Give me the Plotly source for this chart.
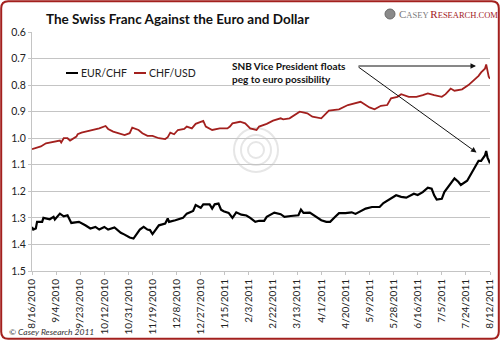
import pandas as pd
import plotly.graph_objects as go

# ---------------- data ----------------
CHFUSD_DATES = [
    "2010-08-16", "2010-08-20", "2010-08-23", "2010-08-27", "2010-09-02", "2010-09-07",
    "2010-09-08", "2010-09-10", "2010-09-13", "2010-09-15", "2010-09-20", "2010-09-21",
    "2010-09-24", "2010-09-29", "2010-10-04", "2010-10-08", "2010-10-13", "2010-10-15",
    "2010-10-19", "2010-10-25", "2010-10-28", "2010-11-01", "2010-11-03", "2010-11-08",
    "2010-11-11", "2010-11-15", "2010-11-19", "2010-11-24", "2010-11-29", "2010-12-01",
    "2010-12-03", "2010-12-06", "2010-12-09", "2010-12-14", "2010-12-16", "2010-12-20",
    "2010-12-23", "2010-12-29", "2010-12-31", "2011-01-05", "2011-01-11", "2011-01-17",
    "2011-01-19", "2011-01-21", "2011-01-27", "2011-01-31", "2011-02-04", "2011-02-09",
    "2011-02-11", "2011-02-17", "2011-02-22", "2011-02-28", "2011-03-02", "2011-03-07",
    "2011-03-15", "2011-03-21", "2011-03-25", "2011-04-01", "2011-04-07", "2011-04-15",
    "2011-04-22", "2011-05-02", "2011-05-05", "2011-05-09", "2011-05-13", "2011-05-18",
    "2011-05-23", "2011-05-26", "2011-05-31", "2011-06-03", "2011-06-09", "2011-06-15",
    "2011-06-20", "2011-06-24", "2011-06-29", "2011-07-05", "2011-07-08", "2011-07-12",
    "2011-07-15", "2011-07-21", "2011-07-26", "2011-08-01", "2011-08-03", "2011-08-05",
    "2011-08-08", "2011-08-09", "2011-08-10", "2011-08-11", "2011-08-12",
]
CHFUSD = [
    1.041, 1.035, 1.031, 1.019, 1.013, 1.009,
    1.016, 1.000, 1.000, 1.009, 0.994, 0.985,
    0.979, 0.973, 0.966, 0.963, 0.954, 0.965,
    0.975, 0.984, 0.988, 0.981, 0.960, 0.969,
    0.981, 0.991, 0.991, 1.000, 1.003, 0.996,
    0.979, 0.985, 0.969, 0.965, 0.956, 0.963,
    0.946, 0.935, 0.956, 0.969, 0.963, 0.963,
    0.956, 0.944, 0.938, 0.944, 0.963, 0.969,
    0.956, 0.946, 0.934, 0.925, 0.929, 0.925,
    0.900, 0.906, 0.919, 0.925, 0.896, 0.891,
    0.875, 0.863, 0.871, 0.884, 0.891, 0.878,
    0.875, 0.850, 0.844, 0.834, 0.844, 0.844,
    0.838, 0.831, 0.838, 0.844, 0.834, 0.813,
    0.821, 0.816, 0.800, 0.775, 0.765, 0.752,
    0.738, 0.722, 0.745, 0.768, 0.776,
]

EURCHF_DATES = [
    "2010-08-16", "2010-08-17", "2010-08-19", "2010-08-20", "2010-08-24", "2010-08-25",
    "2010-08-30", "2010-09-02", "2010-09-03", "2010-09-07", "2010-09-10", "2010-09-13",
    "2010-09-16", "2010-09-20", "2010-09-22", "2010-09-27", "2010-10-01", "2010-10-05",
    "2010-10-08", "2010-10-12", "2010-10-15", "2010-10-20", "2010-10-25", "2010-10-28",
    "2010-11-01", "2010-11-04", "2010-11-08", "2010-11-09", "2010-11-12", "2010-11-15",
    "2010-11-17", "2010-11-19", "2010-11-24", "2010-11-29", "2010-12-01", "2010-12-02",
    "2010-12-07", "2010-12-13", "2010-12-16", "2010-12-21", "2010-12-23", "2010-12-27",
    "2010-12-29", "2011-01-03", "2011-01-05", "2011-01-07", "2011-01-10", "2011-01-12",
    "2011-01-14", "2011-01-18", "2011-01-21", "2011-01-24", "2011-01-28", "2011-02-01",
    "2011-02-04", "2011-02-08", "2011-02-11", "2011-02-15", "2011-02-17", "2011-02-23",
    "2011-02-28", "2011-03-03", "2011-03-08", "2011-03-14", "2011-03-16", "2011-03-18",
    "2011-03-23", "2011-03-28", "2011-04-01", "2011-04-05", "2011-04-08", "2011-04-12",
    "2011-04-15", "2011-04-20", "2011-04-25", "2011-04-28", "2011-05-03", "2011-05-06",
    "2011-05-11", "2011-05-17", "2011-05-20", "2011-05-25", "2011-05-30", "2011-06-03",
    "2011-06-07", "2011-06-13", "2011-06-16", "2011-06-20", "2011-06-24", "2011-06-27",
    "2011-06-29", "2011-07-01", "2011-07-05", "2011-07-07", "2011-07-11", "2011-07-12",
    "2011-07-15", "2011-07-18", "2011-07-20", "2011-07-25", "2011-07-28", "2011-08-01",
    "2011-08-03", "2011-08-05", "2011-08-08", "2011-08-09", "2011-08-10", "2011-08-12",
]
EURCHF = [
    1.334, 1.344, 1.340, 1.315, 1.315, 1.300,
    1.305, 1.296, 1.306, 1.284, 1.294, 1.290,
    1.319, 1.318, 1.315, 1.328, 1.340, 1.334,
    1.344, 1.334, 1.344, 1.336, 1.356, 1.363,
    1.374, 1.378, 1.354, 1.344, 1.334, 1.344,
    1.346, 1.361, 1.328, 1.321, 1.302, 1.315,
    1.309, 1.300, 1.284, 1.274, 1.252, 1.262,
    1.249, 1.249, 1.265, 1.249, 1.246, 1.269,
    1.275, 1.281, 1.300, 1.279, 1.288, 1.291,
    1.300, 1.315, 1.311, 1.311, 1.296, 1.280,
    1.286, 1.296, 1.293, 1.290, 1.269, 1.281,
    1.280, 1.296, 1.309, 1.315, 1.315, 1.296,
    1.282, 1.282, 1.279, 1.285, 1.274, 1.265,
    1.259, 1.259, 1.244, 1.231, 1.215, 1.221,
    1.224, 1.209, 1.214, 1.203, 1.186, 1.190,
    1.215, 1.231, 1.228, 1.203, 1.178, 1.170,
    1.151, 1.164, 1.176, 1.160, 1.133, 1.101,
    1.085, 1.085, 1.065, 1.048, 1.072, 1.095,
]

X_TICK_LABELS = [
    "8/16/2010", "9/4/2010", "9/23/2010", "10/12/2010", "10/31/2010", "11/19/2010",
    "12/8/2010", "12/27/2010", "1/15/2011", "2/3/2011", "2/22/2011", "3/13/2011",
    "4/1/2011", "4/20/2011", "5/9/2011", "5/28/2011", "6/16/2011", "7/5/2011",
    "7/24/2011", "8/12/2011",
]
Y_TICKS = [0.6, 0.7, 0.8, 0.9, 1.0, 1.1, 1.2, 1.3, 1.4, 1.5]

SERIES_NAMES = ["EUR/CHF", "CHF/USD"]
TITLE = "The Swiss Franc Against the Euro and Dollar"
NOTE = "SNB Vice President floats<br>peg to euro possibility"
COPYRIGHT = "© Casey Research 2011"

# ---------------- styling ----------------
W, H = 500, 340
ML, MR, MT, MB = 32, 10, 32, 69
PW, PH = W - ML - MR, H - MT - MB
RED = "#a3201e"
GRID = "#c4c4c4"
FONT = "Lato, 'Open Sans', sans-serif"


def px_x(px):
    return (px - ML) / PW


def px_y(py):
    return (H - MB - py) / PH


def rounded_frame(x0, y0, x1, y1, r):
    p = lambda x, y: f"{px_x(x):.5f},{px_y(y):.5f}"
    return (f"M {p(x0 + r, y0)} L {p(x1 - r, y0)} Q {p(x1, y0)} {p(x1, y0 + r)} "
            f"L {p(x1, y1 - r)} Q {p(x1, y1)} {p(x1 - r, y1)} "
            f"L {p(x0 + r, y1)} Q {p(x0, y1)} {p(x0, y1 - r)} "
            f"L {p(x0, y0 + r)} Q {p(x0, y0)} {p(x0 + r, y0)} Z")


tick_dates = pd.to_datetime(X_TICK_LABELS, format="%m/%d/%Y")

fig = go.Figure()
fig.add_trace(go.Scatter(
    x=pd.to_datetime(EURCHF_DATES), y=EURCHF, mode="lines", name=SERIES_NAMES[0],
    line=dict(color="#000000", width=2.2), showlegend=False,
))
fig.add_trace(go.Scatter(
    x=pd.to_datetime(CHFUSD_DATES), y=CHFUSD, mode="lines", name=SERIES_NAMES[1],
    line=dict(color=RED, width=1.8), showlegend=False,
))

shapes = []
# outer frame with rounded corners
shapes.append(dict(type="path", xref="paper", yref="paper",
                   path=rounded_frame(1.2, 1.2, 498.8, 338.8, 7),
                   line=dict(color=RED, width=2), layer="below"))
# watermark spiral (faint circles)
for r, w in [(22, 2), (15, 2), (8, 2)]:
    shapes.append(dict(type="circle", xref="paper", yref="paper",
                       xsizemode="pixel", ysizemode="pixel",
                       xanchor=px_x(256), yanchor=px_y(150),
                       x0=-r, x1=r, y0=-r, y1=r,
                       line=dict(color="#e6e6e6", width=w), layer="below"))
# logo icon
shapes.append(dict(type="circle", xref="paper", yref="paper",
                   xsizemode="pixel", ysizemode="pixel",
                   xanchor=px_x(390), yanchor=px_y(14),
                   x0=-5, x1=5, y0=-5, y1=5,
                   fillcolor="#8a8a8a", line=dict(color="#6a6a6a", width=1)))
# legend line samples
shapes.append(dict(type="line", xref="paper", yref="paper",
                   x0=px_x(66), x1=px_x(78), y0=px_y(73), y1=px_y(73),
                   line=dict(color="#000000", width=2)))
shapes.append(dict(type="line", xref="paper", yref="paper",
                   x0=px_x(134), x1=px_x(146), y0=px_y(73), y1=px_y(73),
                   line=dict(color=RED, width=2)))

annotations = [
    dict(text=f"<b>{TITLE}</b>", xref="paper", yref="paper", x=px_x(177), y=px_y(19),
         xanchor="center", yanchor="middle", showarrow=False,
         font=dict(family=FONT, size=13.5, color="#111111")),
    dict(text=SERIES_NAMES[0], xref="paper", yref="paper", x=px_x(79), y=px_y(73),
         xanchor="left", yanchor="middle", showarrow=False,
         font=dict(family=FONT, size=10.5, color="#222222")),
    dict(text=SERIES_NAMES[1], xref="paper", yref="paper", x=px_x(147), y=px_y(73),
         xanchor="left", yanchor="middle", showarrow=False,
         font=dict(family=FONT, size=10.5, color="#222222")),
    dict(text=f"<b>{NOTE}</b>", xref="paper", yref="paper", x=px_x(230), y=px_y(73),
         xanchor="left", yanchor="middle", align="left", showarrow=False,
         font=dict(family=FONT, size=10, color="#111111")),
    dict(text=f"<i>{COPYRIGHT}</i>", xref="paper", yref="paper", x=px_x(7), y=px_y(332),
         xanchor="left", yanchor="middle", showarrow=False,
         font=dict(family=FONT, size=8.5, color="#333333")),
    dict(text=("<span style='font-size:11px'>C</span>ASEY "
               f"<span style='color:{RED}'><span style='font-size:11px'>R</span>ESEARCH.COM</span>"),
         xref="paper", yref="paper", x=px_x(397), y=px_y(14),
         xanchor="left", yanchor="middle", showarrow=False,
         font=dict(family="'Liberation Serif', serif", size=8.5, color="#7a7a7a")),
    # arrows
    dict(text="", xref="x domain", yref="y domain", x=px_x(476), y=px_y(66),
         ax=357 - 476, ay=0, showarrow=True, arrowhead=2, arrowsize=1.1,
         arrowwidth=1, arrowcolor="#111111", standoff=0),
    dict(text="", xref="x domain", yref="y domain", x=px_x(476.5), y=px_y(152.5),
         ax=357 - 476.5, ay=66 - 152.5, showarrow=True, arrowhead=2, arrowsize=1.1,
         arrowwidth=1, arrowcolor="#111111", standoff=0),
]

fig.update_layout(
    width=W, height=H,
    margin=dict(l=ML, r=MR, t=MT, b=MB, pad=0, autoexpand=False),
    paper_bgcolor="white", plot_bgcolor="white",
    font=dict(family=FONT, size=11, color="#222222"),
    shapes=shapes, annotations=annotations,
    xaxis=dict(
        type="date", automargin=False,
        range=[tick_dates[0], tick_dates[-1]],
        tickvals=tick_dates, ticktext=X_TICK_LABELS,
        tickangle=-90, tickfont=dict(size=10, color="#222222"),
        showgrid=False, zeroline=False,
        showline=True, linecolor=GRID, linewidth=1,
        ticks="outside", ticklen=3, tickcolor=GRID,
    ),
    yaxis=dict(
        automargin=False,
        range=[1.5, 0.6], tickvals=Y_TICKS, tickformat=".1f",
        tickfont=dict(size=10.5, color="#222222"),
        showgrid=True, gridcolor=GRID, gridwidth=1, zeroline=False,
        showline=True, linecolor=GRID, linewidth=1,
        ticks="outside", ticklen=3, tickcolor=GRID,
    ),
)

fig.write_html("out.html")
